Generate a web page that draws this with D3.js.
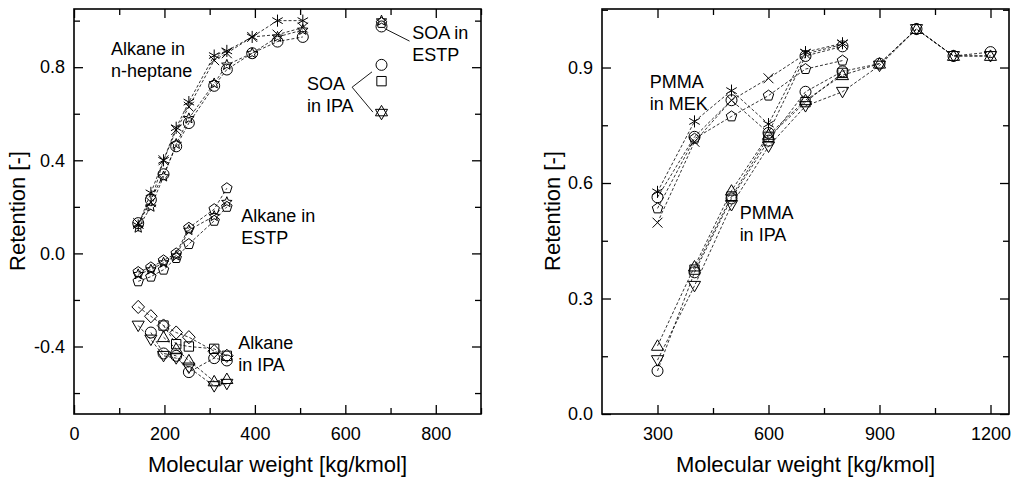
<html>
<head><meta charset="utf-8"></head>
<script src="https://d3js.org/d3.v7.min.js"></script>
<style>
body {margin:0; background:#fff;}
text {font-family:"Liberation Sans", Arial, sans-serif; fill:#000;}
.tick text {font-size:18px;}
.ser {fill:none; stroke:#000; stroke-width:0.8; stroke-dasharray:3,2;}
.mk {fill:none; stroke:#000; stroke-width:1;}
.note {font-size:18px;}
.title {font-size:22px;}
</style>
<body>
<svg width=1014 height=481></svg>
<script>
// ---- left panel: alkanes and SOA ----
const mwAlk = [142, 170, 198, 226, 254, 310, 338, 394, 450, 506];
const hepAsterisk = [0.12, 0.26, 0.40, 0.54, 0.65, 0.85, 0.87, 0.93, 1.00, 1.00];
const hepCross    = [0.13, 0.22, 0.40, 0.53, 0.63, 0.83, 0.86, 0.93, 0.94, 0.97];
const hepCircle   = [0.13, 0.23, 0.34, 0.46, 0.56, 0.72, 0.79, 0.86, 0.91, 0.93];
const hepStar     = [0.11, 0.20, 0.33, 0.47, 0.58, 0.73, 0.81, 0.86, 0.93, 0.96];

const mwEstp = [142, 170, 198, 226, 254, 310, 338];
const estpPentA = [-0.08, -0.06, -0.03, 0.00, 0.11, 0.19, 0.28];
const estpStar  = [-0.09, -0.07, -0.04, -0.01, 0.10, 0.16, 0.22];
const estpPentB = [-0.12, -0.10, -0.07, -0.02, 0.04, 0.14, 0.20];

const mwIpaDiamond = [142, 170, 198, 226, 254, 310, 338];
const ipaDiamond   = [-0.23, -0.27, -0.31, -0.34, -0.36, -0.42, -0.44];
const mwIpaSquare  = [198, 226, 254, 310, 338];
const ipaSquare    = [-0.31, -0.39, -0.40, -0.41, -0.44];
const mwIpaCircle  = [170, 198, 226, 254, 310, 338];
const ipaCircle    = [-0.34, -0.43, -0.44, -0.51, -0.45, -0.46];
const mwIpaTriUp   = [198, 226, 254, 310, 338];
const ipaTriUp     = [-0.36, -0.41, -0.46, -0.55, -0.54];
const mwIpaTriDown = [142, 170, 198, 226, 254, 310, 338];
const ipaTriDown   = [-0.31, -0.37, -0.44, -0.45, -0.49, -0.57, -0.56];

const mwSoa = 680;
const soaEstp = {star: 1.00, pentagon: 0.99, circle: 0.975};
const soaIpa  = {circle: 0.81, square: 0.74, triUp: 0.61, triDown: 0.60};

// ---- right panel: PMMA ----
const mwPmma = [300, 400, 500, 600, 700, 800, 900, 1000, 1100, 1200];
const mekAsterisk = [0.577, 0.76, 0.84, 0.753, 0.94, 0.963];
const mekCross    = [0.497, 0.707, 0.815, 0.872, 0.935, 0.96];
const mekCircle   = [0.563, 0.72, 0.815, 0.73, 0.93, 0.955];
const mekPentagon = [0.534, 0.715, 0.773, 0.827, 0.896, 0.918];
const pmIpaCircle  = [0.112, 0.368, 0.56, 0.71, 0.837, 0.89, 0.91, 1.0, 0.93, 0.94];
const pmIpaTriUp   = [0.177, 0.383, 0.58, 0.725, 0.815, 0.88, 0.91, 1.0, 0.93, 0.93];
const pmIpaTriDown = [0.14, 0.333, 0.543, 0.695, 0.80, 0.837, 0.905, 1.0, 0.93, 0.93];
const mwPmSquare   = [400, 500, 600, 700, 800];
const pmIpaSquare  = [0.375, 0.565, 0.72, 0.81, 0.886];

const leftTicksX = [0, 200, 400, 600, 800], leftMinorX = [100, 300, 500, 700, 900];
const leftTicksY = [-0.4, 0, 0.4, 0.8], leftMinorY = [-0.6, -0.2, 0.2, 0.6, 1.0];
const rightTicksX = [300, 600, 900, 1200], rightMinorX = [450, 750, 1050];
const rightTicksY = [0, 0.3, 0.6, 0.9], rightMinorY = [0.15, 0.45, 0.75, 1.05];

const svg = d3.select("svg");
// plain hyphen for negatives, like the original
const fmt = d => (d < 0 ? "-" : "") + Math.abs(d).toFixed(1);

function mark(t) {
  const r = 5.5;
  if (t == "circle") return `M${-r},0A${r},${r} 0 1,0 ${r},0A${r},${r} 0 1,0 ${-r},0Z`;
  if (t == "square") { const s = r * 0.85; return `M${-s},${-s}H${s}V${s}H${-s}Z`; }
  if (t == "triUp") return `M0,${-r*1.1}L${r*1.1},${r*0.8}L${-r*1.1},${r*0.8}Z`;
  if (t == "triDown") return `M0,${r*1.1}L${r*1.1},${-r*0.8}L${-r*1.1},${-r*0.8}Z`;
  if (t == "diamond") return `M0,${-r*1.2}L${r*1.15},0L0,${r*1.2}L${-r*1.15},0Z`;
  if (t == "pentagon" || t == "star") {
    const n = t == "star" ? 10 : 5, pts = [];
    for (let k = 0; k < n; k++) {
      const a = -Math.PI / 2 + k * 2 * Math.PI / n;
      const rr = (t == "star" && k % 2) ? r * 0.45 : r;
      pts.push([rr * Math.cos(a), rr * Math.sin(a)]);
    }
    return "M" + pts.join("L") + "Z";
  }
  if (t == "cross") { const s = r * 0.9; return `M${-s},${-s}L${s},${s}M${-s},${s}L${s},${-s}`; }
  if (t == "asterisk") {
    let p = `M0,${-r*1.1}L0,${r*1.1}`;
    [30, 150].forEach(function(d) {
      const a = d * Math.PI / 180, cx = r * 1.1 * Math.cos(a), cy = r * 1.1 * Math.sin(a);
      p += `M${-cx},${-cy}L${cx},${cy}`;
    });
    return p;
  }
}

function panel(x, y, tx, mx, ty, my, series, singles) {
  const g = svg.append("g");
  const [x0, x1] = x.range(), [y0, y1] = y.range();
  g.append("g").attr("transform", `translate(0,${y0})`)
    .call(d3.axisBottom(x).tickValues(tx).tickSizeInner(-9).tickSizeOuter(0).tickPadding(13).tickFormat(d3.format("d")));
  g.append("g").attr("transform", `translate(0,${y0})`)
    .call(d3.axisBottom(x).tickValues(mx).tickSizeInner(-6).tickSizeOuter(0).tickFormat(""));
  g.append("g").attr("transform", `translate(0,${y1})`)
    .call(d3.axisTop(x).tickValues(tx).tickSizeInner(-9).tickSizeOuter(0).tickFormat(""));
  g.append("g").attr("transform", `translate(0,${y1})`)
    .call(d3.axisTop(x).tickValues(mx).tickSizeInner(-6).tickSizeOuter(0).tickFormat(""));
  g.append("g").attr("transform", `translate(${x0},0)`)
    .call(d3.axisLeft(y).tickValues(ty).tickSizeInner(-9).tickSizeOuter(0).tickPadding(9).tickFormat(fmt));
  g.append("g").attr("transform", `translate(${x0},0)`)
    .call(d3.axisLeft(y).tickValues(my).tickSizeInner(-6).tickSizeOuter(0).tickFormat(""));
  g.append("g").attr("transform", `translate(${x1},0)`)
    .call(d3.axisRight(y).tickValues(ty).tickSizeInner(-9).tickSizeOuter(0).tickFormat(""));
  g.append("g").attr("transform", `translate(${x1},0)`)
    .call(d3.axisRight(y).tickValues(my).tickSizeInner(-6).tickSizeOuter(0).tickFormat(""));
  g.selectAll(".domain").remove();
  g.selectAll(".tick line").attr("stroke-width", 1.3);
  g.append("rect").attr("x", x0).attr("y", y1).attr("width", x1 - x0).attr("height", y0 - y1)
    .attr("fill", "none").attr("stroke", "#000").attr("stroke-width", 1.6);

  const line = d3.line().x(d => x(d[0])).y(d => y(d[1]));
  series.forEach(function(s) {
    const pts = s.x.map((v, i) => [v, s.y[i]]);
    g.append("path").attr("class", "ser").attr("d", line(pts));
    g.selectAll(null).data(pts).enter().append("path").attr("class", "mk")
      .attr("transform", d => `translate(${x(d[0])},${y(d[1])})`).attr("d", mark(s.sym));
  });
  (singles || []).forEach(function(s) {
    g.append("path").attr("class", "mk")
      .attr("transform", `translate(${x(s[0])},${y(s[1])})`).attr("d", mark(s[2]));
  });
  return g;
}

function notes(g, x, y, list) {
  list.forEach(function(n) {
    const t = g.append("text").attr("class", "note").attr("x", x(n[0])).attr("y", y(n[1]));
    n[2].forEach(function(s, i) { t.append("tspan").attr("x", x(n[0])).attr("dy", i ? 22 : 0).text(s); });
  });
}

// left panel
const xL = d3.scaleLinear().domain([0, 900]).range([74, 481]);
const yL = d3.scaleLinear().domain([-0.69, 1.05]).range([414, 9]);
const gL = panel(xL, yL, leftTicksX, leftMinorX, leftTicksY, leftMinorY, [
  {x: mwAlk, y: hepCircle, sym: "circle"},
  {x: mwAlk, y: hepStar, sym: "star"},
  {x: mwAlk, y: hepCross, sym: "cross"},
  {x: mwAlk, y: hepAsterisk, sym: "asterisk"},
  {x: mwEstp, y: estpPentA, sym: "pentagon"},
  {x: mwEstp, y: estpStar, sym: "star"},
  {x: mwEstp, y: estpPentB, sym: "pentagon"},
  {x: mwIpaDiamond, y: ipaDiamond, sym: "diamond"},
  {x: mwIpaSquare, y: ipaSquare, sym: "square"},
  {x: mwIpaCircle, y: ipaCircle, sym: "circle"},
  {x: mwIpaTriUp, y: ipaTriUp, sym: "triUp"},
  {x: mwIpaTriDown, y: ipaTriDown, sym: "triDown"}
], [
  [mwSoa, soaEstp.star, "star"], [mwSoa, soaEstp.pentagon, "pentagon"], [mwSoa, soaEstp.circle, "circle"],
  [mwSoa, soaIpa.circle, "circle"], [mwSoa, soaIpa.square, "square"],
  [mwSoa, soaIpa.triUp, "triUp"], [mwSoa, soaIpa.triDown, "triDown"]
]);
notes(gL, xL, yL, [
  [82, 0.854, ["Alkane in", "n-heptane"]],
  [370, 0.135, ["Alkane in", "ESTP"]],
  [363, -0.41, ["Alkane", "in IPA"]],
  [515, 0.70, ["SOA", "in IPA"]],
  [748, 0.92, ["SOA in", "ESTP"]]
]);
// leader lines of the SOA labels
[[615, 0.714, 659, 0.78], [615, 0.714, 661, 0.607], [687, 0.966, 742, 0.912]].forEach(function(l) {
  gL.append("line").attr("x1", xL(l[0])).attr("y1", yL(l[1])).attr("x2", xL(l[2])).attr("y2", yL(l[3]))
    .attr("stroke", "#000").attr("stroke-width", 0.9);
});

// right panel
const xR = d3.scaleLinear().domain([150, 1250]).range([602, 1009]);
const yR = d3.scaleLinear().domain([0, 1.052]).range([414, 9]);
const gR = panel(xR, yR, rightTicksX, rightMinorX, rightTicksY, rightMinorY, [
  {x: mwPmma.slice(0, 6), y: mekPentagon, sym: "pentagon"},
  {x: mwPmma.slice(0, 6), y: mekCircle, sym: "circle"},
  {x: mwPmma.slice(0, 6), y: mekCross, sym: "cross"},
  {x: mwPmma.slice(0, 6), y: mekAsterisk, sym: "asterisk"},
  {x: mwPmma, y: pmIpaCircle, sym: "circle"},
  {x: mwPmma, y: pmIpaTriUp, sym: "triUp"},
  {x: mwPmma, y: pmIpaTriDown, sym: "triDown"},
  {x: mwPmSquare, y: pmIpaSquare, sym: "square"}
]);
notes(gR, xR, yR, [
  [279, 0.847, ["PMMA", "in MEK"]],
  [522, 0.506, ["PMMA", "in IPA"]]
]);

// axis titles
[[277.5, 472, "Molecular weight [kg/kmol]"], [805.5, 472, "Molecular weight [kg/kmol]"]].forEach(function(t) {
  svg.append("text").attr("class", "title").attr("x", t[0]).attr("y", t[1]).attr("text-anchor", "middle").text(t[2]);
});
[[25, 211], [560, 211]].forEach(function(t) {
  svg.append("text").attr("class", "title").attr("text-anchor", "middle")
    .attr("transform", `translate(${t[0]},${t[1]}) rotate(-90)`).text("Retention [-]");
});
</script>
</body>
</html>
